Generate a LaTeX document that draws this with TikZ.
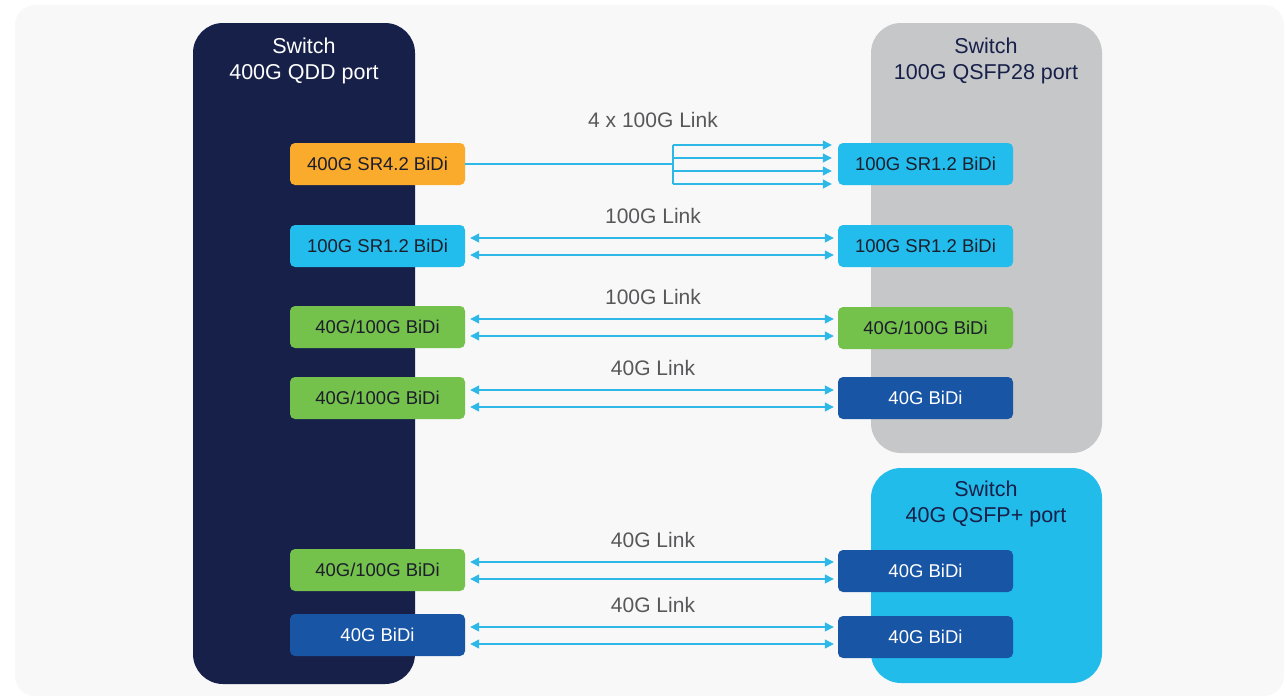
\documentclass[tikz,border=0pt]{standalone}
\usepackage{fontspec}
\setmainfont{Liberation Sans}
\usetikzlibrary{arrows.meta}

\definecolor{panelbg}{HTML}{F8F8F8}
\definecolor{qddnavy}{HTML}{172049}
\definecolor{qsfpgray}{HTML}{C6C7C9}
\definecolor{qsfpcyan}{HTML}{22BCEB}
\definecolor{srorange}{HTML}{FBAB2C}
\definecolor{srcyan}{HTML}{22BDEC}
\definecolor{bidigreen}{HTML}{74C14B}
\definecolor{bidiblue}{HTML}{1955A5}
\definecolor{fibre}{HTML}{2DB8E8}
\definecolor{linktext}{HTML}{58585A}
\definecolor{modtext}{HTML}{1C1E2C}

\tikzset{
  module/.style={rounded corners=5pt, minimum width=175pt, minimum height=42pt,
    inner sep=0pt, font=\fontsize{18.5}{22}\selectfont, text=modtext},
  orangemod/.style={module, fill=srorange},
  cyanmod/.style={module, fill=srcyan},
  greenmod/.style={module, fill=bidigreen},
  bluemod/.style={module, fill=bidiblue, text=white},
  header/.style={align=center, font=\fontsize{21.5}{26}\selectfont},
  linklabel/.style={text=linktext, font=\fontsize{21}{24}\selectfont},
  fibreline/.style={fibre, line width=1.3pt},
  duplex/.style={fibreline, {Triangle[length=9pt,width=9pt]}-{Triangle[length=9pt,width=9pt]},
    shorten <=5pt, shorten >=4pt},
  simplex/.style={fibreline, -{Triangle[length=9pt,width=9pt]}, shorten >=6pt}
}

\begin{document}
\begin{tikzpicture}[x=1pt,y=-1pt]
  \useasboundingbox (0,0) rectangle (1287,697);
  \fill[panelbg, rounded corners=20pt] (15,5) rectangle (1284,696);

  % switch bodies
  \fill[qddnavy, rounded corners=30pt] (193,23) rectangle (415,684);
  \fill[qsfpgray, rounded corners=30pt] (871,23) rectangle (1102,453);
  \fill[qsfpcyan, rounded corners=30pt] (871,468) rectangle (1102,683);
  \node[header, text=white] (hdrqdd) at (304,61) {Switch\\400G QDD port};
  \node[header, text=qddnavy] (hdrqsfp28) at (986,61) {Switch\\100G QSFP28 port};
  \node[header, text=qddnavy] (hdrqsfp) at (986,504) {Switch\\40G QSFP+ port};

  % modules, 400G side
  \node[orangemod] (l1) at (377.5,164) {400G SR4.2 BiDi};
  \node[cyanmod]   (l2) at (377.5,246) {100G SR1.2 BiDi};
  \node[greenmod]  (l3) at (377.5,327) {40G/100G BiDi};
  \node[greenmod]  (l4) at (377.5,398) {40G/100G BiDi};
  \node[greenmod]  (l5) at (377.5,570) {40G/100G BiDi};
  \node[bluemod]   (l6) at (377.5,635) {40G BiDi};

  % modules, far side
  \node[cyanmod]   (r1) at (925.5,164) {100G SR1.2 BiDi};
  \node[cyanmod]   (r2) at (925.5,246) {100G SR1.2 BiDi};
  \node[greenmod]  (r3) at (925.5,328) {40G/100G BiDi};
  \node[bluemod]   (r4) at (925.5,398) {40G BiDi};
  \node[bluemod]   (r5) at (925.5,571) {40G BiDi};
  \node[bluemod]   (r6) at (925.5,637) {40G BiDi};

  % breakout 4 x 100G
  \coordinate (split) at (673,164);
  \coordinate (splittop) at (673,145);
  \coordinate (splitbot) at (673,184);
  \draw[fibreline] (l1.east) -- (split);
  \draw[fibreline] (splittop) -- (splitbot);
  \foreach \dy in {19,6,-7,-20}
    \draw[simplex] ([yshift=\dy pt]split) -- ([yshift=\dy pt]r1.west);
  \node[linklabel] (lk1) at (653,120) {4 x 100G Link};

  % duplex links
  \foreach \a/\b/\txt in {l2/r2/100G Link, l3/r3/100G Link, l4/r4/40G Link,
                          l5/r5/40G Link, l6/r6/40G Link} {
    \draw[duplex] ([yshift=8pt]\a.east) -- ([yshift=8pt]\a.east -| \b.west);
    \draw[duplex] ([yshift=-9pt]\a.east) -- ([yshift=-9pt]\a.east -| \b.west);
    \node[linklabel] (lbl\a) at ([yshift=30pt]\a.east -| 653,0) {\txt};
  }
\end{tikzpicture}
\end{document}
